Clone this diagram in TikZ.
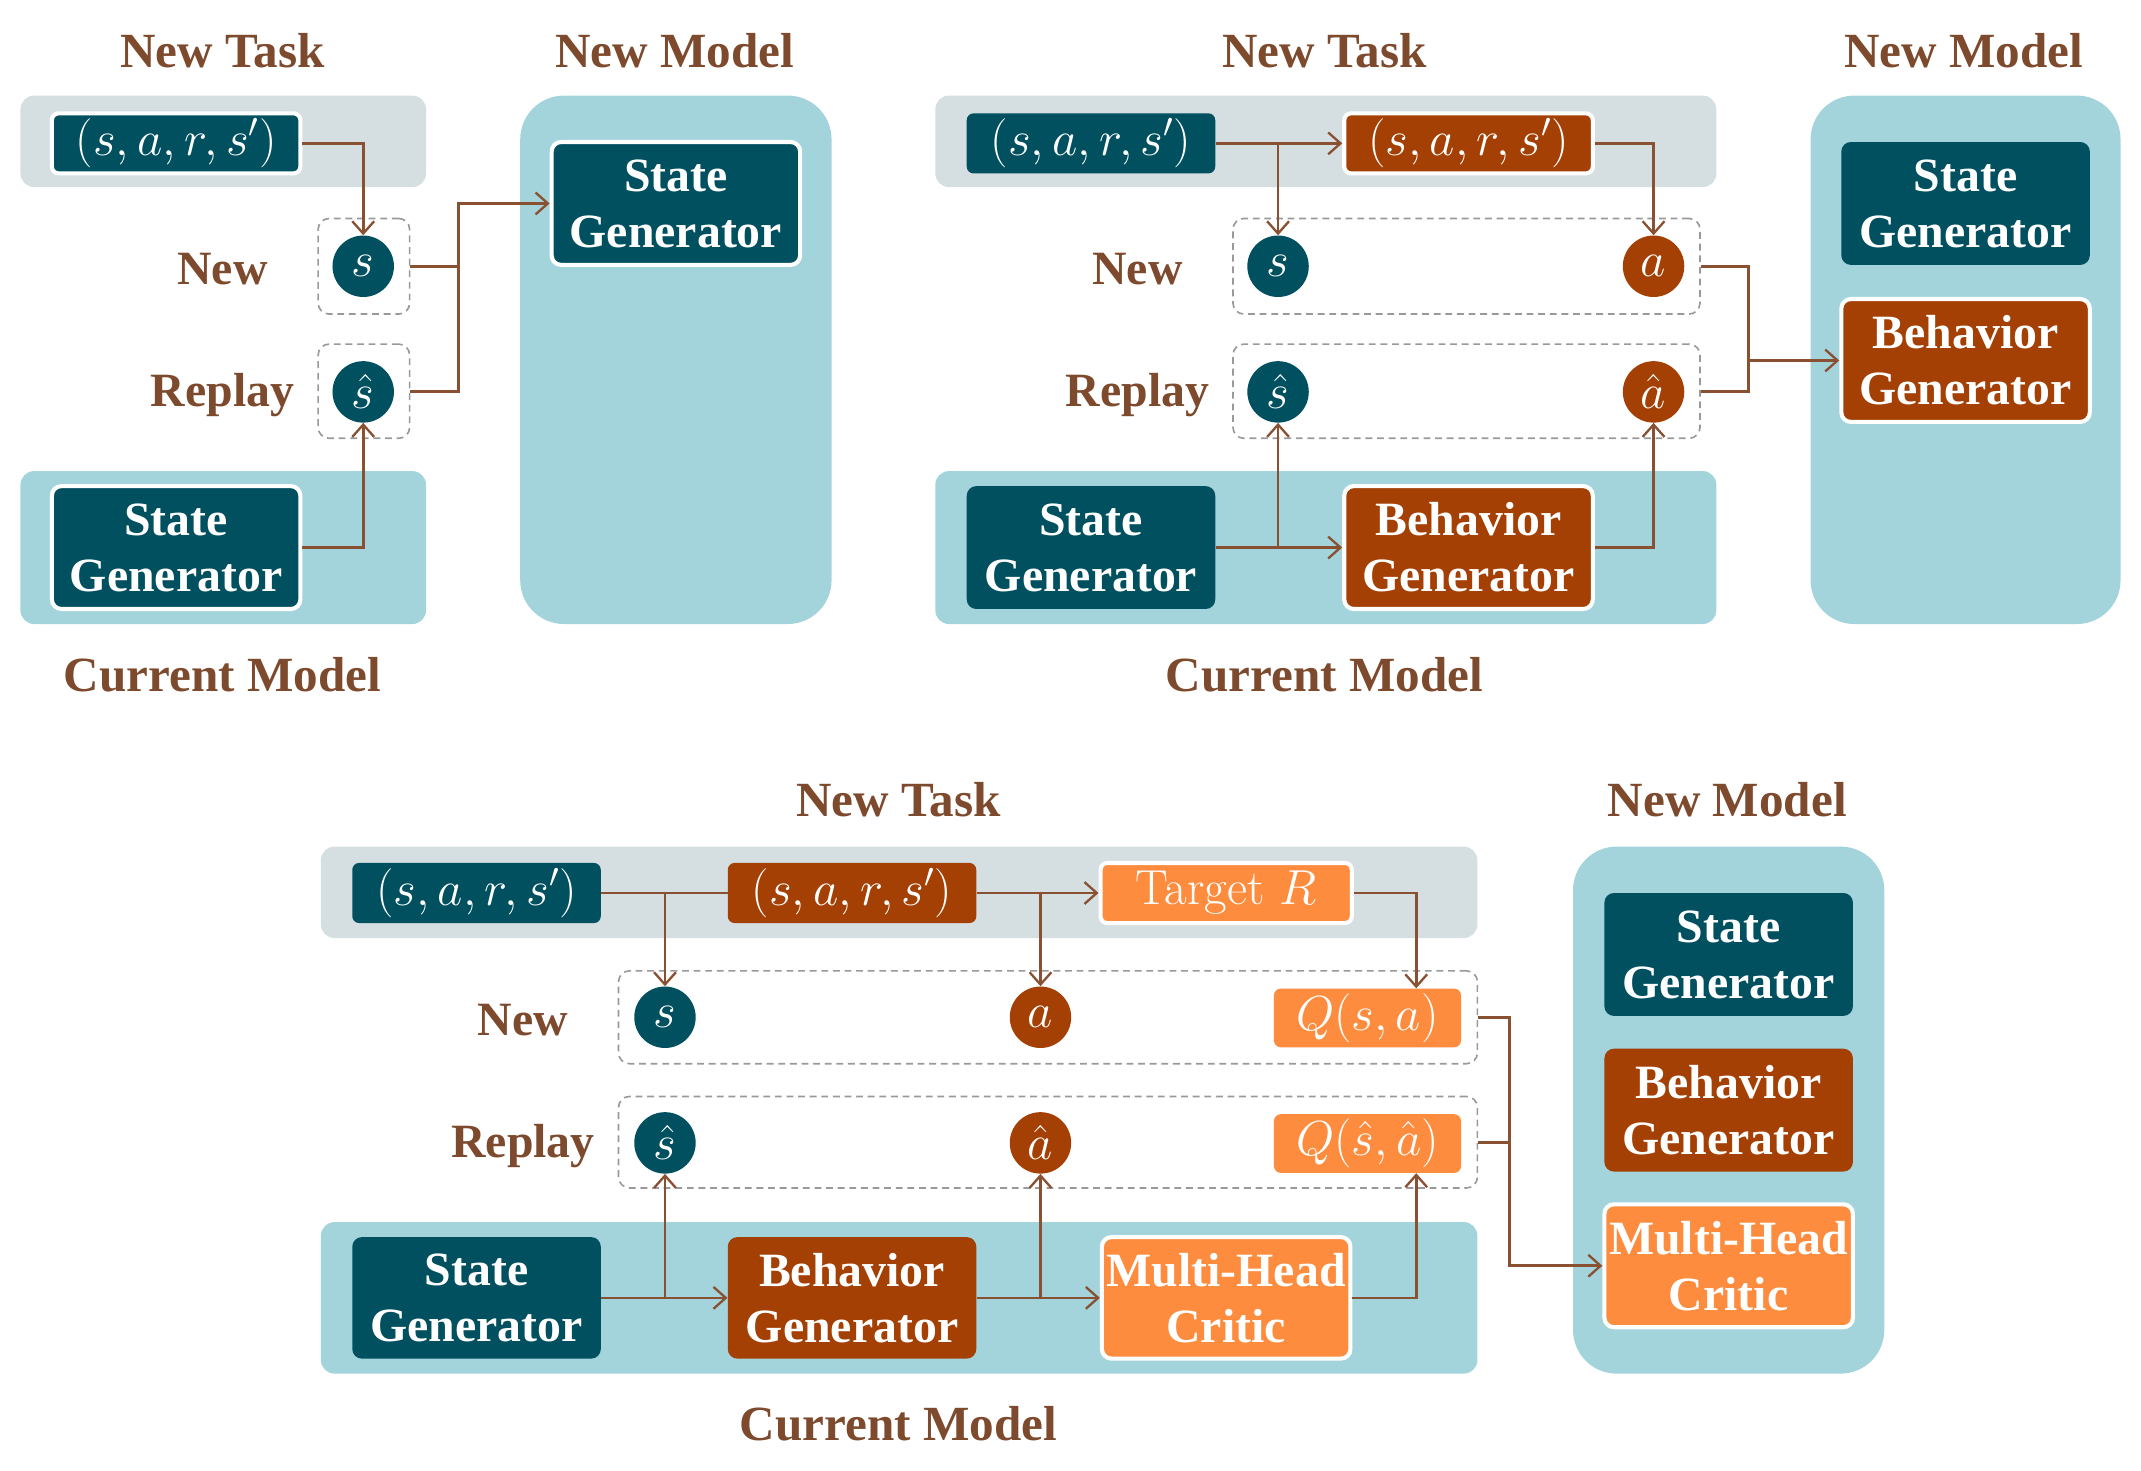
\documentclass[tikz,border=0pt]{standalone}
\usepackage{fix-cm}
\usepackage{fontspec}
\newfontfamily\libfont{Liberation Serif}
\usetikzlibrary{arrows.meta,calc}
\definecolor{dteal}{RGB}{0,80,96}
\definecolor{dorange}{RGB}{164,64,4}
\definecolor{lorange}{RGB}{253,140,62}
\definecolor{lteal}{RGB}{163,212,220}
\definecolor{greybg}{RGB}{213,223,226}
\definecolor{brn}{RGB}{125,74,45}
\definecolor{arrc}{RGB}{138,80,50}
\newcommand\lbf{\libfont\bfseries\fontsize{35}{41}\selectfont}
\newcommand\tbf{\libfont\bfseries\fontsize{36}{42}\selectfont}
\newcommand\mfs{\fontsize{36}{42}\selectfont}
\tikzset{
  grp/.style={fill=greybg, rounded corners=10pt, inner sep=0pt},
  cmbox/.style={fill=lteal, rounded corners=10pt, inner sep=0pt},
  nmbox/.style={fill=lteal, rounded corners=32pt, inner sep=0pt},
  dbox/.style={draw=black!40, dashed, dash pattern=on 5pt off 3.5pt, line width=1.2pt, rounded corners=8pt, inner sep=0pt},
  gen/.style={rounded corners=7pt, inner sep=0pt, text=white, font=\lbf, align=center, minimum width=182pt, minimum height=90pt},
  tup/.style={rounded corners=5pt, inner sep=0pt, text=white, font=\mfs, minimum width=182pt, minimum height=44pt},
  qbox/.style={rounded corners=5pt, inner sep=0pt, text=white, font=\mfs, fill=lorange, minimum width=137pt, minimum height=43pt},
  hl/.style={draw=white, line width=3pt},
  tl/.style={fill=dteal},
  og/.style={fill=dorange},
  lo/.style={fill=lorange},
  var/.style={circle, inner sep=0pt, minimum size=45pt, text=white, font=\mfs},
  title/.style={text=brn, font=\tbf},
  lab/.style={text=brn, font=\lbf},
  arr/.style={draw=arrc, line width=2pt, -{Straight Barb[length=9pt,width=16pt,line width=1.7pt]}},
  ln/.style={draw=arrc, line width=2pt},
}
\begin{document}
\begin{tikzpicture}[x=1pt,y=-1pt]
\useasboundingbox (0,0) rectangle (1568,1077);
% ================= Panel 1 =================
\node[grp, minimum width=297pt, minimum height=67pt] (task1) at (163.5,103.5) {};
\node[cmbox, minimum width=297pt, minimum height=112pt] (cur1) at (163.5,401) {};
\node[nmbox, minimum width=228pt, minimum height=387pt] (nm1) at (495,263.5) {};
\node[title] (tt1) at (163,37) {New Task};
\node[title] (tm1) at (494,37) {New Model};
\node[title] (tc1) at (163,494) {Current Model};
\node[lab] (ln1) at (163,197) {New};
\node[lab] (lr1) at (163,289) {Replay};
\node[dbox, minimum width=67pt, minimum height=70pt] (new1) at (266.5,195) {};
\node[dbox, minimum width=67pt, minimum height=69pt] (rep1) at (266.5,286.5) {};
\node[tup, tl, hl] (tup1) at (129,105) {$\bigl(s,a,r,s'\bigr)$};
\node[var, tl] (s1) at (266,195) {$s$};
\node[var, tl] (sh1) at (266,287) {$\hat{s}$};
\node[gen, tl, hl] (sg1) at (129,401) {State\\Generator};
\node[gen, tl, hl] (nsg1) at (495,149) {State\\Generator};
\coordinate (j1) at ($(new1.east)+(35,0)$);
\draw[arr] (tup1.east) -| (s1.north);
\draw[arr] (sg1.east) -| (sh1.south);
\draw[ln] (new1.east) -- (j1) |- (rep1.east);
\draw[arr] (j1) |- (nsg1.west);
% ================= Panel 2 =================
\node[grp, minimum width=572pt, minimum height=67pt] (task2) at (971,103.5) {};
\node[cmbox, minimum width=572pt, minimum height=112pt] (cur2) at (971,401) {};
\node[nmbox, minimum width=227pt, minimum height=387pt] (nm2) at (1439.5,263.5) {};
\node[title] (tt2) at (970,37) {New Task};
\node[title] (tm2) at (1438,37) {New Model};
\node[title] (tc2) at (970,494) {Current Model};
\node[lab] (ln2) at (833,197) {New};
\node[lab] (lr2) at (833,289) {Replay};
\node[dbox, minimum width=342pt, minimum height=70pt] (new2) at (1074,195) {};
\node[dbox, minimum width=342pt, minimum height=69pt] (rep2) at (1074,286.5) {};
\node[tup, tl] (tup2a) at (799,105) {$\bigl(s,a,r,s'\bigr)$};
\node[tup, og, hl] (tup2b) at (1075.5,105) {$\bigl(s,a,r,s'\bigr)$};
\node[var, tl] (s2) at (936,195) {$s$};
\node[var, og] (a2) at (1211,195) {$a$};
\node[var, tl] (sh2) at (936,287) {$\hat{s}$};
\node[var, og] (ah2) at (1211,287) {$\hat{a}$};
\node[gen, tl] (sg2) at (799,401) {State\\Generator};
\node[gen, og, hl] (bg2) at (1075.5,401) {Behavior\\Generator};
\node[gen, tl] (nsg2) at (1439.5,149) {State\\Generator};
\node[gen, og, hl] (nbg2) at (1439.5,264) {Behavior\\Generator};
\coordinate (j2) at ($(new2.east)+(35,0)$);
\draw[arr] (tup2a.east) -- (tup2b.west);
\draw[arr] (s2 |- tup2a.east) -- (s2.north);
\draw[arr] (tup2b.east) -| (a2.north);
\draw[arr] (sg2.east) -- (bg2.west);
\draw[arr] (sh2 |- sg2.east) -- (sh2.south);
\draw[arr] (bg2.east) -| (ah2.south);
\draw[ln] (new2.east) -- (j2) |- (rep2.east);
\draw[arr] (j2 |- nbg2.west) -- (nbg2.west);
% ================= Panel 3 =================
\node[grp, minimum width=847pt, minimum height=67pt] (task3) at (658.5,653.5) {};
\node[cmbox, minimum width=847pt, minimum height=111pt] (cur3) at (658.5,950.5) {};
\node[nmbox, minimum width=228pt, minimum height=386pt] (nm3) at (1266,813) {};
\node[title] (tt3) at (658,586) {New Task};
\node[title] (tm3) at (1265,586) {New Model};
\node[title] (tc3) at (658,1043) {Current Model};
\node[lab] (ln3) at (383,747) {New};
\node[lab] (lr3) at (383,839) {Replay};
\node[dbox, minimum width=629pt, minimum height=68pt] (new3) at (767.5,745) {};
\node[dbox, minimum width=629pt, minimum height=67pt] (rep3) at (767.5,836.5) {};
\node[tup, tl] (tup3a) at (349,654) {$\bigl(s,a,r,s'\bigr)$};
\node[tup, og] (tup3b) at (624,654) {$\bigl(s,a,r,s'\bigr)$};
\node[tup, lo, hl, minimum width=184pt] (tgt3) at (898,654) {Target $R$};
\node[var, tl] (s3) at (487,745) {$s$};
\node[var, og] (a3) at (762,745) {$a$};
\node[qbox] (q3) at (1001.5,745.5) {$Q(s,a)$};
\node[var, tl] (sh3) at (487,837) {$\hat{s}$};
\node[var, og] (ah3) at (762,837) {$\hat{a}$};
\node[qbox] (qh3) at (1001.5,837.5) {$Q\bigl(\hat{s},\hat{a}\bigr)$};
\node[gen, tl, minimum height=89pt] (sg3) at (349,950.5) {State\\Generator};
\node[gen, og, minimum height=89pt] (bg3) at (624,950.5) {Behavior\\Generator};
\node[gen, lo, hl, minimum height=89pt] (mhc3) at (898,950.5) {Multi-Head\\Critic};
\node[gen, tl] (nsg3) at (1266,699) {State\\Generator};
\node[gen, og] (nbg3) at (1266,813) {Behavior\\Generator};
\node[gen, lo, hl] (nmhc3) at (1266,927) {Multi-Head\\Critic};
\coordinate (j3) at ($(new3.east)+(23,0)$);
\coordinate (qt3) at ($(q3.north east)+(-33,0)$);
\coordinate (qb3) at ($(qh3.south east)+(-33,0)$);
\draw[ln] (tup3a.east) -- (tup3b.west);
\draw[arr] (s3 |- tup3a.east) -- (s3.north);
\draw[arr] (tup3b.east) -- (tgt3.west);
\draw[arr] (a3 |- tup3b.east) -- (a3.north);
\draw[arr] (tgt3.east) -| (qt3);
\draw[arr] (sg3.east) -- (bg3.west);
\draw[arr] (sh3 |- sg3.east) -- (sh3.south);
\draw[arr] (bg3.east) -- (mhc3.west);
\draw[arr] (ah3 |- bg3.east) -- (ah3.south);
\draw[arr] (mhc3.east) -| (qb3);
\draw[ln] (new3.east) -- (j3) |- (rep3.east);
\draw[arr] (j3) |- (nmhc3.west);
\end{tikzpicture}
\end{document}
